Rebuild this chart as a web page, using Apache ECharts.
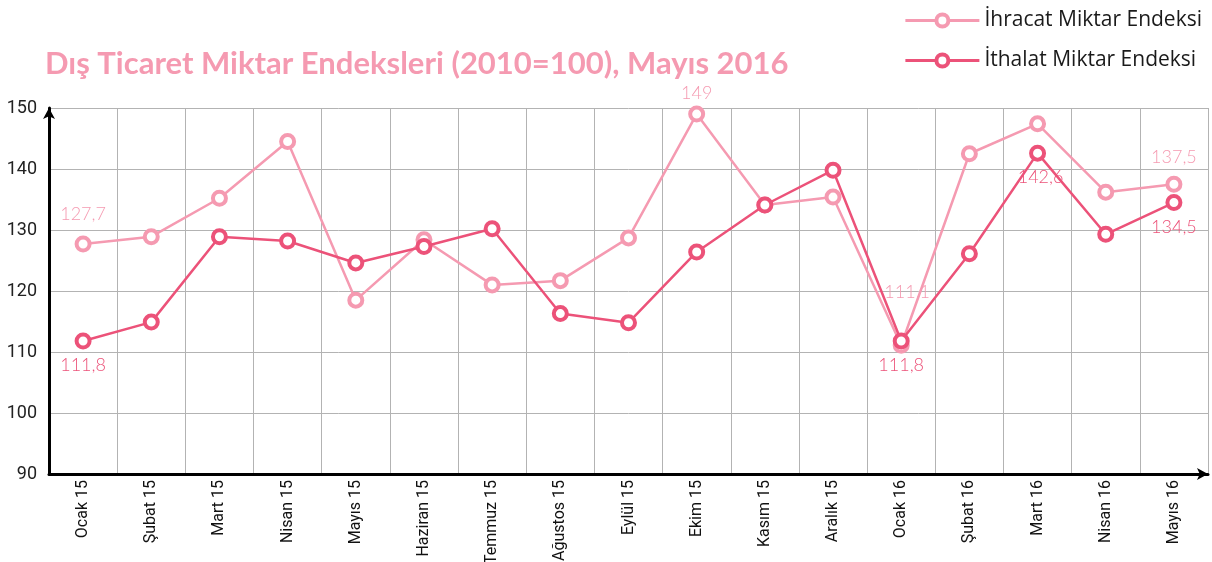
<!DOCTYPE html>
<html>
<head>
<meta charset="utf-8">
<script src="https://cdn.jsdelivr.net/npm/echarts@6/dist/echarts.min.js"></script>
<style>
  html, body { margin: 0; padding: 0; background: #fff; }
  #chart { width: 1212px; height: 562px; }
</style>
</head>
<body>
<div id="chart"></div>
<script>
var months = ['Ocak 15', 'Şubat 15', 'Mart 15', 'Nisan 15', 'Mayıs 15', 'Haziran 15', 'Temmuz 15',
  'Ağustos 15', 'Eylül 15', 'Ekim 15', 'Kasım 15', 'Aralık 15', 'Ocak 16', 'Şubat 16', 'Mart 16',
  'Nisan 16', 'Mayıs 16'];
var ihracat = [127.7, 128.9, 135.2, 144.5, 118.5, 128.4, 121.0, 121.7, 128.7, 149, 134.1, 135.4,
  111.1, 142.5, 147.4, 136.2, 137.5];
var ithalat = [111.8, 114.9, 128.9, 128.2, 124.6, 127.3, 130.2, 116.3, 114.8, 126.4, 134.1, 139.8,
  111.8, 126.1, 142.6, 129.3, 134.5];
// points that carry a value label
var ihracatLabelIdx = [0, 9, 12, 16];
var ithalatLabelIdx = [0, 12, 14, 16];

var lightPink = '#F59AB1';
var darkPink = '#EC5279';

// label placement, per labelled point: [distance, x offset]
var labelPlace = {
  ihracat: { 0: [12, 0], 9: [3, 0], 12: [36, 6], 16: [10, 0] },
  ithalat: { 0: [7, 0], 12: [7, 0], 14: [7, 3], 16: [7, 0] }
};

function withLabels(values, idx, place, position) {
  return values.map(function (v, i) {
    if (idx.indexOf(i) >= 0) {
      var p = place[i] || [7, 0];
      return { value: v, label: { show: true, position: position, distance: p[0], offset: [p[1], 0] } };
    }
    return v;
  });
}

function fmt(p) {
  return String(p.value).replace('.', ',');
}

var chart = echarts.init(document.getElementById('chart'));
var option = {
  animation: false,
  title: {
    text: 'Dış Ticaret Miktar Endeksleri (2010=100), Mayıs 2016',
    left: 40,
    top: 43,
    textStyle: {
      color: lightPink,
      fontFamily: 'Lato',
      fontWeight: 'bold',
      fontSize: 31
    }
  },
  legend: {
    orient: 'vertical',
    right: 5,
    top: 5,
    itemWidth: 74,
    itemHeight: 15,
    itemGap: 19,
    itemStyle: { borderWidth: 4 },
    lineStyle: { width: 3 },
    textStyle: {
      fontFamily: 'Open Sans',
      fontSize: 21,
      color: '#1a1a1a'
    },
    data: ['İhracat Miktar Endeksi', 'İthalat Miktar Endeksi']
  },
  grid: {
    left: 49,
    right: 4,
    top: 108,
    bottom: 88,
    outerBoundsMode: 'none'
  },
  xAxis: {
    type: 'category',
    data: months,
    boundaryGap: true,
    axisLine: {
      lineStyle: { color: '#000', width: 3 },
      symbol: ['none', 'arrow'],
      symbolSize: [9, 11]
    },
    axisTick: { show: false },
    axisLabel: {
      rotate: 90,
      interval: 0,
      margin: 6,
      fontFamily: 'Roboto',
      fontSize: 16,
      color: '#111'
    },
    splitLine: {
      show: true,
      interval: 0,
      lineStyle: { color: '#b3b3b3', width: 1 }
    }
  },
  yAxis: {
    type: 'value',
    min: 90,
    max: 150,
    interval: 10,
    axisLine: {
      show: true,
      lineStyle: { color: '#000', width: 3 },
      symbol: ['none', 'arrow'],
      symbolSize: [9, 11]
    },
    axisTick: { show: false },
    axisLabel: {
      margin: 12,
      fontFamily: 'Roboto',
      fontSize: 18,
      color: '#222'
    },
    splitLine: {
      lineStyle: { color: '#b3b3b3', width: 1 }
    }
  },
  series: [{
    name: 'İhracat Miktar Endeksi',
    type: 'line',
    data: withLabels(ihracat, ihracatLabelIdx, labelPlace.ihracat, 'top'),
    symbol: 'circle',
    symbolSize: 13,
    color: lightPink,
    lineStyle: { color: lightPink, width: 2.5 },
    itemStyle: { color: '#fff', borderColor: lightPink, borderWidth: 4 },
    label: {
      show: false,
      formatter: fmt,
      color: lightPink,
      fontFamily: 'Lato',
      fontWeight: 300,
      fontSize: 18
    },
    z: 2
  }, {
    name: 'İthalat Miktar Endeksi',
    type: 'line',
    data: withLabels(ithalat, ithalatLabelIdx, labelPlace.ithalat, 'bottom'),
    symbol: 'circle',
    symbolSize: 13,
    color: darkPink,
    lineStyle: { color: darkPink, width: 2.5 },
    itemStyle: { color: '#fff', borderColor: darkPink, borderWidth: 4 },
    label: {
      show: false,
      formatter: fmt,
      color: darkPink,
      fontFamily: 'Lato',
      fontWeight: 300,
      fontSize: 18
    },
    z: 3
  }]
};
chart.setOption(option);
</script>
</body>
</html>
